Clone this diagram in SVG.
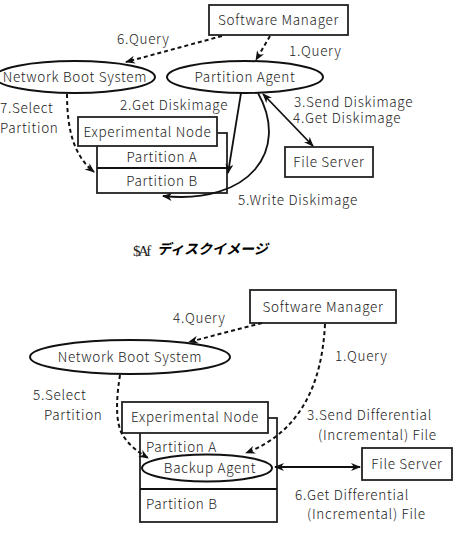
<svg xmlns="http://www.w3.org/2000/svg" width="455" height="545" viewBox="0 0 455 545">
<defs>
<style>
text{font-family:"Noto Sans CJK JP","Noto Sans",sans-serif;font-size:13.5px;fill:#222;letter-spacing:0.7px;font-weight:300}
.c{text-anchor:middle}
.box{fill:#fff;stroke:#222;stroke-width:1.8}
.ell{fill:#fff;stroke:#111;stroke-width:2}
.dash{fill:none;stroke:#111;stroke-width:2;stroke-dasharray:4 3}
.solid{fill:none;stroke:#111;stroke-width:1.8}
</style>
<marker id="ah" viewBox="0 0 10 8" refX="9" refY="4" markerWidth="10" markerHeight="8" markerUnits="userSpaceOnUse" orient="auto-start-reverse">
<path d="M0,0 L10,4 L0,8 L3,4 z" fill="#111"/>
</marker>
</defs>
<rect width="455" height="545" fill="#fff"/>

<!-- TOP DIAGRAM -->
<g id="top-swm"><rect class="box" x="209" y="5" width="139" height="30"/><text class="c" x="278.5" y="25">Software Manager</text></g>
<g id="top-nbs"><ellipse class="ell" cx="75" cy="77" rx="80" ry="16"/><text class="c" x="75" y="82">Network Boot System</text></g>
<g id="top-pa"><ellipse class="ell" cx="245" cy="77" rx="78" ry="16"/><text class="c" x="245" y="82">Partition Agent</text></g>
<g id="top-container"><rect class="box" x="97" y="133" width="130" height="60"/><line class="solid" x1="97" y1="168" x2="227" y2="168"/><text class="c" x="162" y="162">Partition A</text><text class="c" x="162" y="186">Partition B</text></g>
<g id="top-exp"><rect class="box" x="78" y="117" width="139" height="29"/><text class="c" x="147.5" y="137">Experimental Node</text></g>
<g id="top-fs"><rect class="box" x="285" y="147" width="88" height="30"/><text class="c" x="329" y="167">File Server</text></g>

<g id="top-connectors">
<path class="dash" d="M222,36 L126,62" marker-end="url(#ah)"/>
<path class="dash" d="M270,36 L256,60" marker-end="url(#ah)"/>
<path class="dash" d="M67,94 C67,130 74,156 94,172" marker-end="url(#ah)"/>
<path class="solid" d="M241,93 L228,173" marker-end="url(#ah)"/>
<path class="solid" d="M263,94 L313,146" marker-start="url(#ah)" marker-end="url(#ah)"/>
<path class="solid" d="M258,93 C290,150 250,205 163,196" marker-end="url(#ah)"/>
</g>
<g id="top-labels">
<text x="117" y="44">6.Query</text>
<text x="289" y="56">1.Query</text>
<text x="120" y="110">2.Get Diskimage</text>
<text x="0" y="113">7.Select</text>
<text x="0" y="133">Partition</text>
<text x="294" y="107">3.Send Diskimage</text>
<text x="293" y="123">4.Get Diskimage</text>
<text x="238" y="205">5.Write Diskimage</text>
</g>

<!-- MIDDLE TEXT -->
<text x="133" y="256" style="font-family:'Liberation Serif',serif;font-size:15px;letter-spacing:-2.5px;font-weight:normal">$Af</text>
<text x="157" y="254" style="font-size:14px;font-weight:bold;font-style:italic;fill:#000;letter-spacing:0">ディスクイメージ</text>

<!-- BOTTOM DIAGRAM -->
<g id="bot-swm"><rect class="box" x="250" y="290" width="146" height="33"/><text class="c" x="323" y="312">Software Manager</text></g>
<g id="bot-nbs"><ellipse class="ell" cx="130" cy="357" rx="100" ry="17"/><text class="c" x="130" y="362">Network Boot System</text></g>
<g id="bot-container"><rect class="box" x="140" y="418" width="137" height="104"/><line class="solid" x1="140" y1="489" x2="277" y2="489"/><text x="146" y="452">Partition A</text><text x="146" y="509">Partition B</text></g>
<g id="bot-exp"><rect class="box" x="122" y="402" width="146" height="31"/><text class="c" x="195" y="422">Experimental Node</text></g>
<g id="bot-ba"><ellipse class="ell" cx="207" cy="468" rx="65" ry="13.5"/><text class="c" x="210" y="473">Backup Agent</text></g>
<g id="bot-fs"><rect class="box" x="362" y="448" width="90" height="32"/><text class="c" x="407" y="469">File Server</text></g>

<g id="bot-connectors">
<path class="dash" d="M262,323 L189,342" marker-end="url(#ah)"/>
<path class="dash" d="M325,324 C322,385 300,432 246,453" marker-end="url(#ah)"/>
<path class="dash" d="M120,375 C116,400 115,425 124,437 C130,446 138,452 148,458" marker-end="url(#ah)"/>
<path class="solid" d="M275,467 L360,467" marker-start="url(#ah)" marker-end="url(#ah)"/>
</g>
<g id="bot-labels">
<text x="173" y="323">4.Query</text>
<text x="335" y="361">1.Query</text>
<text x="33" y="400">5.Select</text>
<text x="44" y="420">Partition</text>
<text x="307" y="420">3.Send Differential</text>
<text x="318" y="440">(Incremental) File</text>
<text x="295" y="500">6.Get Differential</text>
<text x="307" y="519">(Incremental) File</text>
</g>
</svg>
